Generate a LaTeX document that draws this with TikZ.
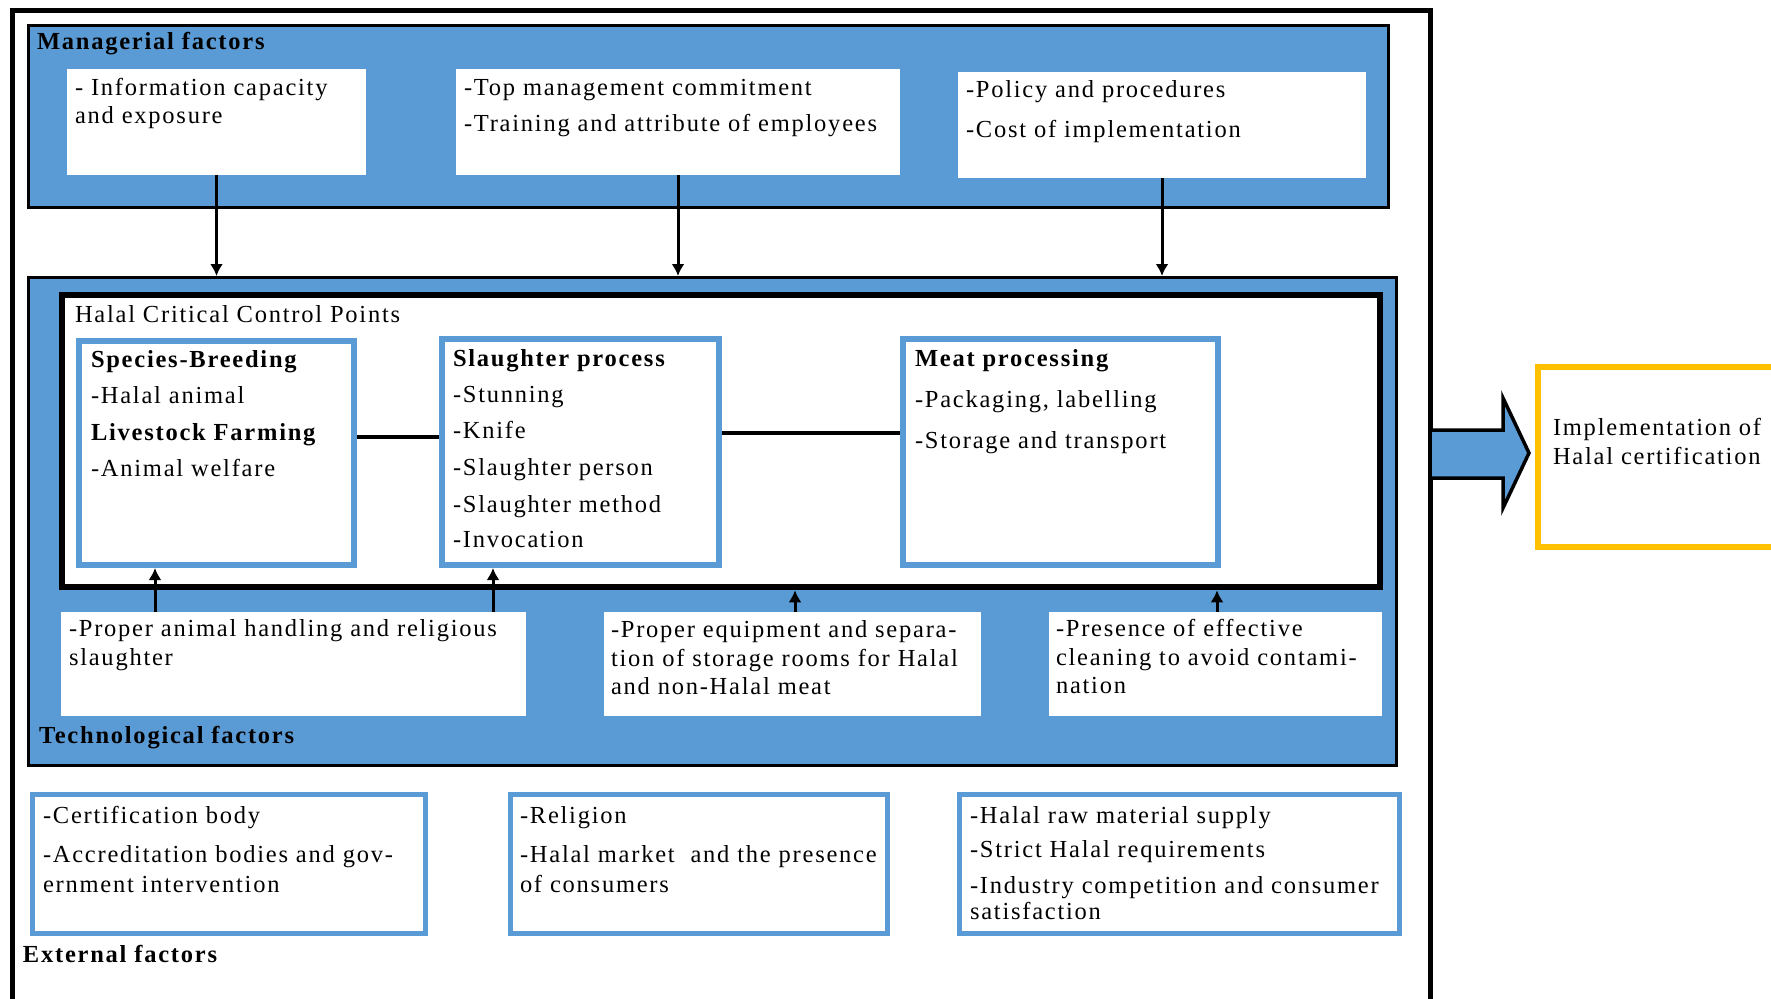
\documentclass[tikz,border=0pt]{standalone}
\usepackage{fontspec}
\setmainfont{Liberation Serif}[LetterSpace=7.2]
\usetikzlibrary{fit,arrows.meta}
\definecolor{bl}{HTML}{5B9BD5}
\definecolor{yl}{HTML}{FFC000}
\newcommand{\dfont}{\fontsize{24.5pt}{29pt}\selectfont}
\tikzset{
  lbl/.style={anchor=base west, inner sep=0pt, outer sep=0pt, font=\dfont},
  blbl/.style={lbl, font=\dfont\bfseries},
  panel/.style={fill=bl, draw=black, line width=3pt, inner sep=0pt},
  wbox/.style={fill=white, draw=none, inner sep=0pt},
  hbox/.style={fill=white, draw=black, line width=6.5pt, inner sep=0pt},
  bbox/.style={fill=white, draw=bl, line width=6pt, inner sep=0pt},
  ebox/.style={fill=white, draw=bl, line width=5pt, inner sep=0pt},
  ybox/.style={fill=white, draw=yl, line width=6pt, inner sep=0pt},
  arr/.style={line width=3pt, -{Latex[length=12pt,width=13pt]}},
  conn/.style={line width=3.5pt},
  bigarrow/.style={fill=bl, draw=black, line width=3.5pt, line join=miter},
}
\begin{document}
\begin{tikzpicture}[x=1pt,y=-1pt]
\path[use as bounding box] (0,0) rectangle (1771,998);
\clip (0,0) rectangle (1771,998);
\fill[white] (0,0) rectangle (1771,998);
% outer frame
\draw[line width=5pt] (12,1010) -- (12,11) -- (1430,11) -- (1430,1010);
% managerial factors
\node[panel, fit={(28.5,25.5) (1388.5,207.5)}] (mgr) {};
\node[wbox, fit={(67,69) (366,175)}] (m1) {};
\node[wbox, fit={(456,69) (900,175)}] (m2) {};
\node[wbox, fit={(958,72) (1366,178)}] (m3) {};
% technological factors
\node[panel, fit={(28.5,277.5) (1396.5,765.5)}] (tech) {};
\node[hbox, fit={(62,295) (1380,587)}] (hccp) {};
\node[bbox, fit={(79,341) (354,565)}] (sp) {};
\node[bbox, fit={(442,339) (719,565)}] (sl) {};
\node[bbox, fit={(903,339) (1218,565)}] (mp) {};
\node[wbox, fit={(61,612) (526,716)}] (t1) {};
\node[wbox, fit={(604,612) (981,716)}] (t2) {};
\node[wbox, fit={(1049,612) (1382,716)}] (t3) {};
% external factors
\node[ebox, fit={(32.5,794.5) (425.5,933.5)}] (ea) {};
\node[ebox, fit={(510.5,794.5) (887.5,933.5)}] (eb) {};
\node[ebox, fit={(959.5,794.5) (1399.5,933.5)}] (ec) {};
% outcome
\node[ybox, fit={(1538,367) (1800,547)}] (impl) {};
\draw[bigarrow] (1432,430) -- (1503,430) -- (1503,398) -- (1529,453) -- (1503,508) -- (1503,478) -- (1432,478);

% texts: managerial
\node[blbl] (tmgr) at (37,50) {Managerial factors};
\node[lbl] (m1a) at (75,95) {- Information capacity};
\node[lbl] (m1b) at (75,123) {and exposure};
\node[lbl] (m2a) at (464,95) {-Top management commitment};
\node[lbl] (m2b) at (464,131) {-Training and attribute of employees};
\node[lbl] (m3a) at (966,97) {-Policy and procedures};
\node[lbl] (m3b) at (966,137) {-Cost of implementation};
% texts: HCCP
\node[lbl] (thccp) at (75,322) {Halal Critical Control Points};
\node[blbl] (spa) at (91,367) {Species-Breeding};
\node[lbl] (spb) at (91,403) {-Halal animal};
\node[blbl] (spc) at (91,440) {Livestock Farming};
\node[lbl] (spd) at (91,476) {-Animal welfare};
\node[blbl] (sla) at (453,366) {Slaughter process};
\node[lbl] (slb) at (453,402) {-Stunning};
\node[lbl] (slc) at (453,438) {-Knife};
\node[lbl] (sld) at (453,475) {-Slaughter person};
\node[lbl] (sle) at (453,512) {-Slaughter method};
\node[lbl] (slf) at (453,547) {-Invocation};
\node[blbl] (mpa) at (915,366) {Meat processing};
\node[lbl] (mpb) at (915,407) {-Packaging, labelling};
\node[lbl] (mpc) at (915,448) {-Storage and transport};
% texts: technological
\node[lbl] (t1a) at (69,636) {-Proper animal handling and religious};
\node[lbl] (t1b) at (69,665) {slaughter};
\node[lbl] (t2a) at (611,637) {-Proper equipment and separa-};
\node[lbl] (t2b) at (611,666) {tion of storage rooms for Halal};
\node[lbl] (t2c) at (611,694) {and non-Halal meat};
\node[lbl] (t3a) at (1056,636) {-Presence of effective};
\node[lbl] (t3b) at (1056,665) {cleaning to avoid contami-};
\node[lbl] (t3c) at (1056,693) {nation};
\node[blbl] (ttech) at (39,743) {Technological factors};
% texts: external
\node[lbl] (eaa) at (43,823) {-Certification body};
\node[lbl] (eab) at (43,862) {-Accreditation bodies and gov-};
\node[lbl] (eac) at (43,892) {ernment intervention};
\node[lbl] (eba) at (520,823) {-Religion};
\node[lbl] (ebb) at (520,862) {-Halal market\ \ and the presence};
\node[lbl] (ebc) at (520,892) {of consumers};
\node[lbl] (eca) at (970,823) {-Halal raw material supply};
\node[lbl] (ecb) at (970,857) {-Strict Halal requirements};
\node[lbl] (ecc) at (970,893) {-Industry competition and consumer};
\node[lbl] (ecd) at (970,919) {satisfaction};
\node[blbl] (text) at (23,962) {External factors};
% texts: outcome
\node[lbl] (ia) at (1553,435) {Implementation of};
\node[lbl] (ib) at (1553,464) {Halal certification};

% connectors
\draw[arr] (m1.south) -- (m1.south |- tech.north);
\draw[arr] (m2.south) -- (m2.south |- tech.north);
\draw[arr] (m3.south) -- (m3.south |- tech.north);
\coordinate (u1) at (155,0);
\coordinate (u2) at (493,0);
\coordinate (u3) at (795,0);
\coordinate (u4) at (1217,0);
\draw[arr] (t1.north -| u1) -- (sp.south -| u1);
\draw[arr] (t1.north -| u2) -- (sl.south -| u2);
\draw[arr] (t2.north -| u3) -- (hccp.south -| u3);
\draw[arr] (t3.north -| u4) -- (hccp.south -| u4);
\coordinate (h1) at (0,437);
\coordinate (h2) at (0,433);
\draw[conn] (sp.east |- h1) -- (sl.west |- h1);
\draw[conn] (sl.east |- h2) -- (mp.west |- h2);
\end{tikzpicture}
\end{document}
